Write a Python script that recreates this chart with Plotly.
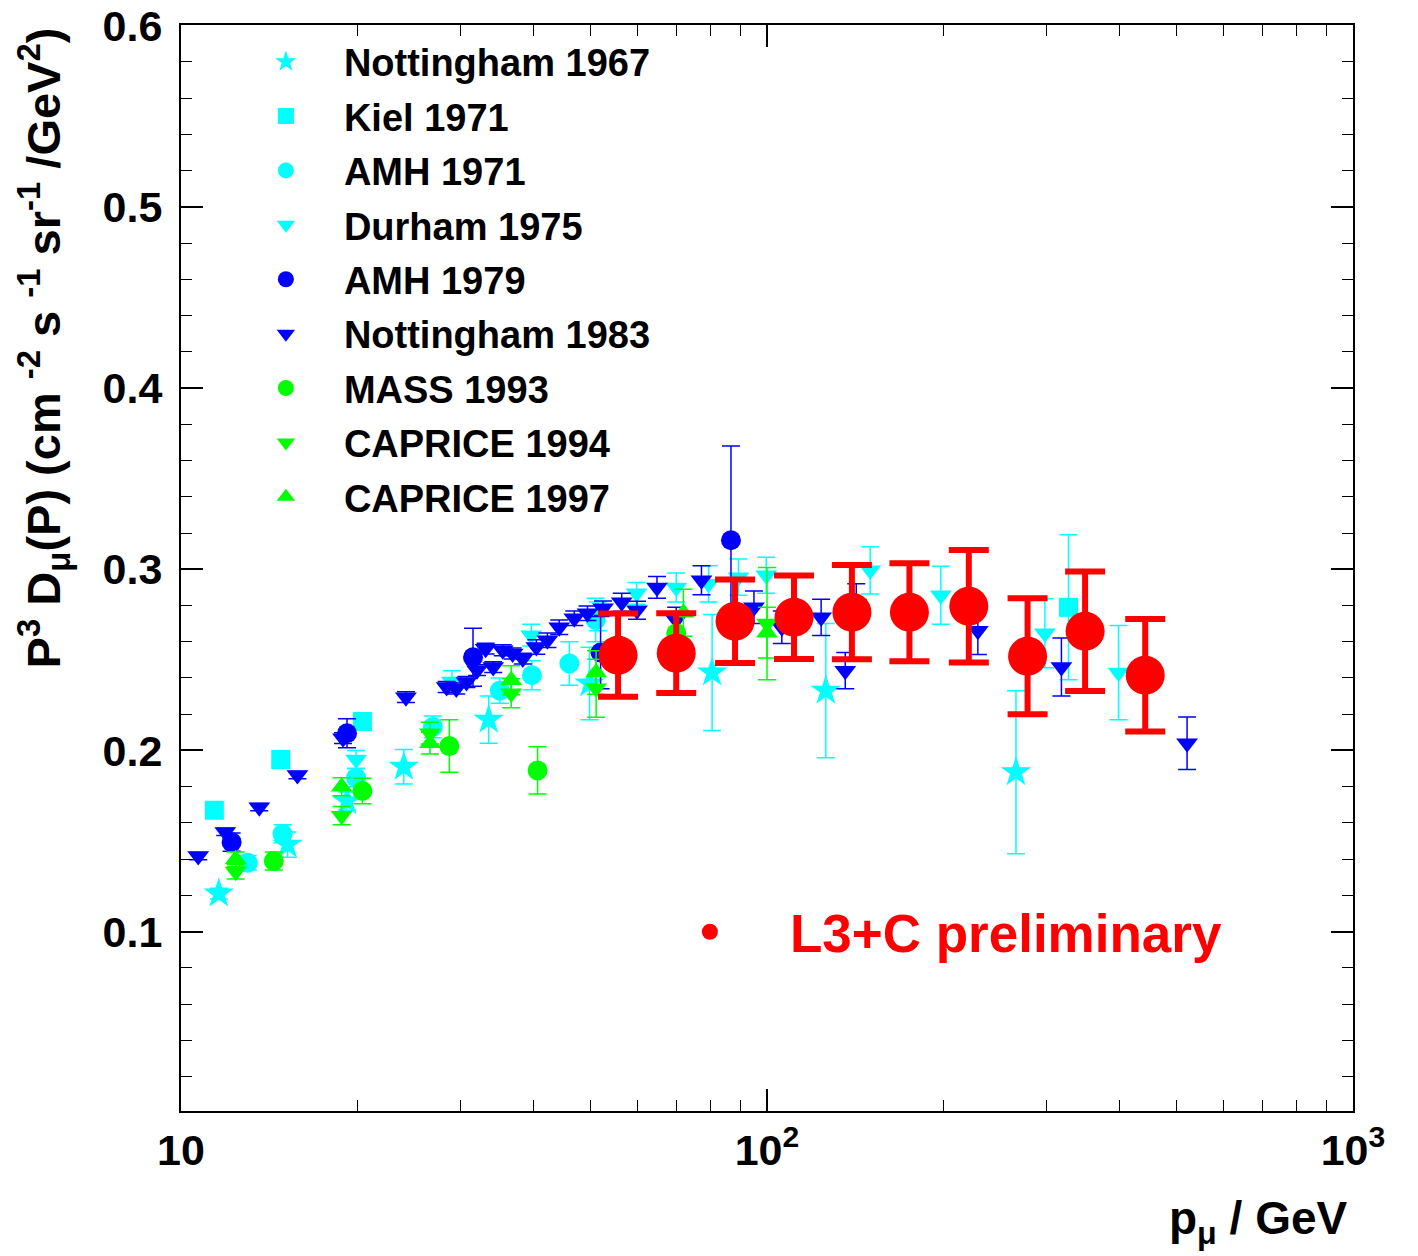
import plotly.graph_objects as go

# ---------------- data (p in GeV, value, symmetric error) ----------------
n67_p = [11.6, 15.2, 19.2, 24.0, 33.5, 49.8, 80.6, 126, 266]
n67_v = [0.121, 0.148, 0.172, 0.191, 0.217, 0.237, 0.243, 0.233, 0.188]
n67_e = [0.003, 0.007, 0.005, 0.0095, 0.013, 0.020, 0.032, 0.037, 0.045]

kiel_p = [11.4, 14.8, 20.4, 327]
kiel_v = [0.167, 0.195, 0.216, 0.279]
kiel_e = [0.003, 0.004, 0.004, 0.040]

amh71_p = [13.0, 14.9, 19.9, 26.9, 35.0, 39.7, 46.0, 51.0]
amh71_v = [0.138, 0.154, 0.185, 0.213, 0.233, 0.2415, 0.248, 0.272]
amh71_e = [0.004, 0.005, 0.005, 0.006, 0.007, 0.008, 0.012, 0.012]

dur_p = [19.9, 29.0, 39.6, 51.5, 59.9, 70.0, 79.5, 89.4, 99.7, 150, 198, 298, 398]
dur_v = [0.195, 0.238, 0.2636, 0.274, 0.2867, 0.290, 0.292, 0.2956, 0.2967, 0.2994, 0.2856, 0.2647, 0.243]
dur_e = [0.005, 0.006, 0.006, 0.008, 0.006, 0.008, 0.010, 0.010, 0.010, 0.013, 0.016, 0.019, 0.026]

amh79_p = [12.2, 19.2, 31.5, 52.0, 86.8]
amh79_v = [0.1494, 0.2095, 0.2514, 0.254, 0.316]
amh79_e = [0.005, 0.008, 0.016, 0.020, 0.052]

n83_p = [10.7, 11.9, 13.6, 15.8, 18.9, 24.2, 28.4, 29.5, 30.7, 32.0, 33.1, 34.1, 35.4,
         36.8, 38.3, 40.4, 42.2, 44.2, 46.9, 49.4, 52.5, 56.5, 60.0, 64.9, 70.0, 77.3,
         95, 106, 123.7, 136, 142, 229, 318, 521]
n83_v = [0.1417, 0.155, 0.1687, 0.1864, 0.2068, 0.2294, 0.235, 0.2342, 0.2378, 0.2443,
         0.2562, 0.246, 0.2553, 0.2535, 0.2507, 0.2571, 0.2608, 0.268, 0.273, 0.2757,
         0.2785, 0.2818, 0.2774, 0.290, 0.272, 0.2939, 0.279, 0.268, 0.2735, 0.244,
         0.281, 0.266, 0.246, 0.204]
n83_e = [0.002, 0.002, 0.002, 0.002, 0.003, 0.003, 0.003, 0.003, 0.003, 0.003,
         0.003, 0.003, 0.003, 0.003, 0.003, 0.004, 0.004, 0.004, 0.004, 0.004,
         0.004, 0.005, 0.005, 0.006, 0.007, 0.008, 0.009, 0.009, 0.010, 0.010,
         0.011, 0.013, 0.016, 0.0145]

mass_p = [14.4, 20.4, 28.7, 40.6, 70.0]
mass_v = [0.139, 0.1776, 0.2024, 0.189, 0.2647]
mass_e = [0.005, 0.007, 0.0145, 0.013, 0.012]

c94_p = [12.4, 18.8, 26.6, 36.6, 51.1, 100]
c94_v = [0.133, 0.164, 0.2095, 0.2316, 0.2343, 0.270]
c94_e = [0.004, 0.005, 0.006, 0.008, 0.016, 0.031]

c97_p = [12.4, 18.8, 26.6, 36.6, 51.1, 72, 100]
c97_v = [0.140, 0.180, 0.204, 0.2388, 0.243, 0.276, 0.265]
c97_e = [0.004, 0.005, 0.006, 0.008, 0.012, 0.013, 0.014]

l3_p = [55.7, 70.0, 88.2, 111.2, 139.6, 175, 221, 278.4, 349, 442]
l3_v = [0.2526, 0.2537, 0.2713, 0.2735, 0.2763, 0.2763, 0.2796, 0.252, 0.2658, 0.2415]
l3_e = [0.023, 0.022, 0.023, 0.023, 0.026, 0.027, 0.031, 0.032, 0.033, 0.031]

x_tickvals = [10, 100, 1000]
x_ticktext = ["10", "10<sup>2</sup>", "10<sup>3</sup>"]
y_tickvals = [0.1, 0.2, 0.3, 0.4, 0.5, 0.6]
y_ticktext = ["0.1", "0.2", "0.3", "0.4", "0.5", "0.6"]

FONT = "Liberation Sans, Arial, Helvetica, sans-serif"
CYAN, BLUE, GREEN, RED = "#00ffff", "#0000ff", "#00ff00", "#ff0000"

series = [
    ("Nottingham 1967", n67_p, n67_v, n67_e, CYAN, "star", 23),
    ("Kiel 1971", kiel_p, kiel_v, kiel_e, CYAN, "square", 19),
    ("AMH 1971", amh71_p, amh71_v, amh71_e, CYAN, "circle", 20),
    ("Durham 1975", dur_p, dur_v, dur_e, CYAN, "triangle-down", 19),
    ("AMH 1979", amh79_p, amh79_v, amh79_e, BLUE, "circle", 20),
    ("Nottingham 1983", n83_p, n83_v, n83_e, BLUE, "triangle-down", 19),
    ("MASS 1993", mass_p, mass_v, mass_e, GREEN, "circle", 20),
    ("CAPRICE 1994", c94_p, c94_v, c94_e, GREEN, "triangle-down", 19),
    ("CAPRICE 1997", c97_p, c97_v, c97_e, GREEN, "triangle-up", 19),
]

fig = go.Figure()
for i, (name, p, v, e, col, sym, sz) in enumerate(series):
    fig.add_trace(go.Scatter(
        x=p, y=v, mode="markers", name=name, legendgroup=f"g{i}",
        marker=dict(symbol=sym, size=sz, color=col, line=dict(width=0)),
        error_y=dict(type="data", array=e, visible=True, color=col,
                     thickness=1.5, width=9),
    ))

fig.add_trace(go.Scatter(
    x=l3_p, y=l3_v, mode="markers", name="L3+C preliminary", legend="legend2",
    marker=dict(symbol="circle", size=39, color=RED, line=dict(width=0)),
    error_y=dict(type="data", array=l3_e, visible=True, color=RED,
                 thickness=6, width=20),
))

axis_common = dict(
    showline=True, linecolor="black", linewidth=2, mirror="allticks",
    ticks="inside", tickcolor="black", tickwidth=1.5, showgrid=False,
    zeroline=False, automargin=False, ticklabeloverflow="allow",
    tickfont=dict(family=FONT, size=43, color="black", weight="bold"),
)

fig.update_xaxes(
    type="log", range=[1, 3], tickmode="array", tickvals=x_tickvals,
    ticktext=x_ticktext, ticklen=22,
    minor=dict(ticks="inside", ticklen=11, tickcolor="black", tickwidth=1,
               tickvals=[20, 30, 40, 50, 60, 70, 80, 90,
                         200, 300, 400, 500, 600, 700, 800, 900]),
    **axis_common,
)
fig.update_yaxes(
    range=[0.001, 0.6004], tickmode="array", tickvals=y_tickvals, ticktext=y_ticktext,
    ticklen=22, ticklabelstandoff=8,
    minor=dict(ticks="inside", ticklen=11, tickcolor="black", tickwidth=1,
               tick0=0, dtick=0.02),
    **axis_common,
)

fig.update_layout(
    width=1410, height=1248,
    margin=dict(l=173, r=65, t=17, b=145),
    paper_bgcolor="white", plot_bgcolor="white",
    font=dict(family=FONT, color="black"),
    showlegend=True,
    legend=dict(
        x=0.040, y=0.995, xanchor="left", yanchor="top",
        bgcolor="rgba(0,0,0,0)", borderwidth=0,
        font=dict(family=FONT, size=38, color="black", weight="bold"),
        itemwidth=106, tracegroupgap=2, itemsizing="trace",
    ),
    legend2=dict(
        x=0.383, y=0.165, xanchor="left", yanchor="middle",
        bgcolor="rgba(0,0,0,0)", borderwidth=0,
        font=dict(family=FONT, size=53, color=RED, weight="bold"),
        itemwidth=150, itemsizing="trace",
    ),
    annotations=[
        dict(text="P<sup>3</sup> D<sub>μ</sub>(P) (cm <sup>-2</sup> s <sup>-1</sup> sr<sup>-1</sup> /GeV<sup>2</sup>)",
             xref="paper", yref="paper", x=-0.117, y=1.0, xanchor="center", yanchor="top",
             textangle=-90, showarrow=False,
             font=dict(family=FONT, size=47, color="black", weight="bold")),
        dict(text="p<sub>μ</sub> / GeV",
             xref="paper", yref="paper", x=0.9974, y=-0.102, xanchor="right", yanchor="middle",
             showarrow=False,
             font=dict(family=FONT, size=46, color="black", weight="bold")),
    ],
)

fig.write_html("out.html")
